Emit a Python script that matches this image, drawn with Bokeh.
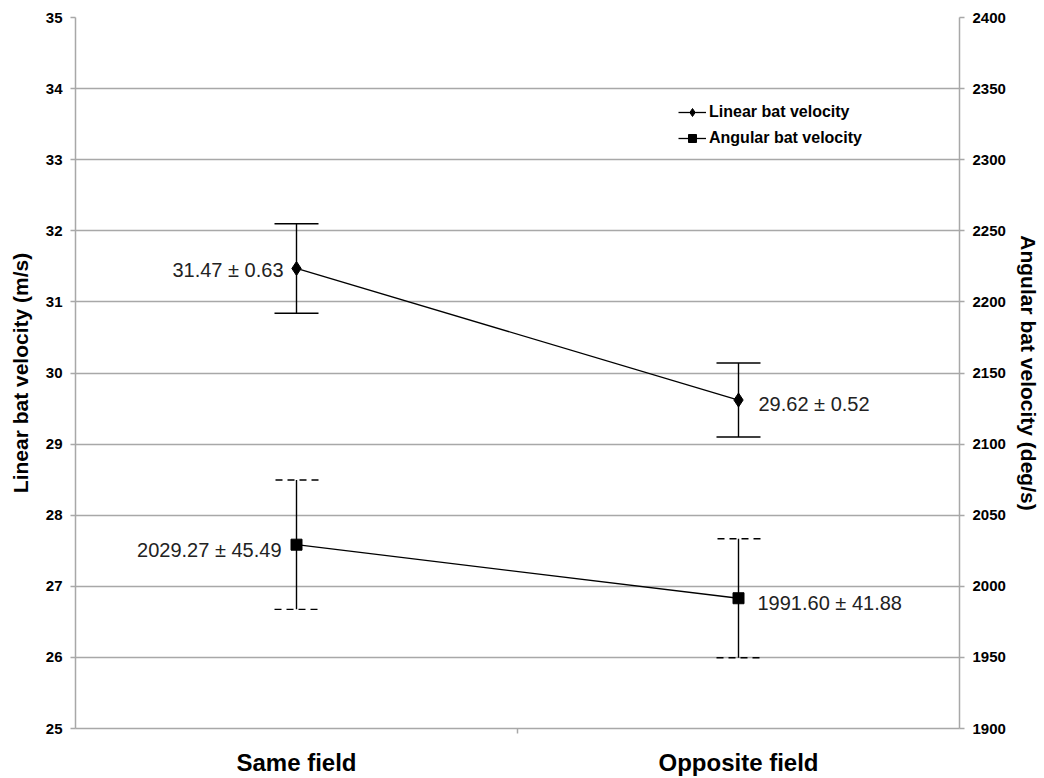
from bokeh.plotting import figure
from bokeh.models import (Range1d, LinearAxis, FixedTicker, ColumnDataSource, Whisker,
                          TeeHead, Legend, LegendItem)
from bokeh.core.properties import value
from bokeh.embed import file_html
from bokeh.resources import INLINE

# ---- data ----
categories = ["Same field", "Opposite field"]
cat_pos = [0.5, 1.5]
linear_mean = [31.47, 29.62]
linear_sd = [0.63, 0.52]
angular_mean = [2029.27, 1991.60]
angular_sd = [45.49, 41.88]
left_ticks = list(range(25, 36))
right_ticks = list(range(1900, 2401, 50))

FONT = "Liberation Sans"
GRID = "#a8a8a8"

p = figure(width=1044, height=778, output_backend="svg", toolbar_location=None,
           x_range=Range1d(0, 2), y_range=Range1d(25, 35),
           min_border_left=75, min_border_right=85, min_border_top=17, min_border_bottom=47)
p.outline_line_color = None
p.background_fill_color = "white"
p.border_fill_color = "white"
p.extra_y_ranges = {"ang": Range1d(1900, 2400)}

# grid
p.xgrid.grid_line_color = None
p.ygrid.grid_line_color = GRID
p.ygrid.grid_line_width = 1.5
p.ygrid.ticker = FixedTicker(ticks=left_ticks)

# x axis
xa = p.xaxis[0]
xa.ticker = FixedTicker(ticks=cat_pos, minor_ticks=[1.0])
xa.major_label_overrides = {cat_pos[i]: categories[i] for i in range(2)}
xa.major_tick_out = 0
xa.major_tick_in = 0
xa.minor_tick_out = 5
xa.minor_tick_in = 0
xa.axis_line_color = GRID
xa.axis_line_width = 1.5
xa.minor_tick_line_color = GRID
xa.minor_tick_line_width = 1.5
xa.major_label_text_font = FONT
xa.major_label_text_font_style = "bold"
xa.major_label_text_font_size = "24px"
xa.major_label_text_color = "black"
xa.major_label_standoff = 15

def style_y(ax, title, title_standoff):
    ax.axis_line_color = GRID
    ax.axis_line_width = 1.5
    ax.major_tick_line_color = GRID
    ax.major_tick_line_width = 1.5
    ax.major_tick_out = 5
    ax.major_tick_in = 0
    ax.minor_tick_line_color = None
    ax.major_label_text_font = FONT
    ax.major_label_text_font_style = "bold"
    ax.major_label_text_font_size = "15px"
    ax.major_label_text_color = "black"
    ax.major_label_standoff = 8
    ax.axis_label = title
    ax.axis_label_text_font = FONT
    ax.axis_label_text_font_style = "bold"
    ax.axis_label_text_font_size = "21px"
    ax.axis_label_text_color = "black"
    ax.axis_label_standoff = title_standoff

ya = p.yaxis[0]
ya.ticker = FixedTicker(ticks=left_ticks)
style_y(ya, "Linear bat velocity (m/s)", 11)

ra = LinearAxis(y_range_name="ang", ticker=FixedTicker(ticks=right_ticks))
style_y(ra, "Angular bat velocity (deg/s)", 8)
p.add_layout(ra, "right")

# ---- sources ----
lin_src = ColumnDataSource(dict(
    x=cat_pos, y=linear_mean,
    lo=[m - s for m, s in zip(linear_mean, linear_sd)],
    hi=[m + s for m, s in zip(linear_mean, linear_sd)],
    label=[f"{m:.2f} \u00b1 {s:.2f}" for m, s in zip(linear_mean, linear_sd)]))
ang_src = ColumnDataSource(dict(
    x=cat_pos, y=angular_mean,
    lo=[m - s for m, s in zip(angular_mean, angular_sd)],
    hi=[m + s for m, s in zip(angular_mean, angular_sd)],
    label=[f"{m:.2f} \u00b1 {s:.2f}" for m, s in zip(angular_mean, angular_sd)]))

# error bars
w1 = Whisker(source=lin_src, base="x", upper="hi", lower="lo", line_color="black", line_width=1.4,
             upper_head=TeeHead(size=44, line_color="black", line_width=1.4),
             lower_head=TeeHead(size=44, line_color="black", line_width=1.4))
p.add_layout(w1)
w2 = Whisker(source=ang_src, base="x", upper="hi", lower="lo", y_range_name="ang",
             line_color="black", line_width=1.4,
             upper_head=TeeHead(size=44, line_color="black", line_width=1.4, line_dash="7 5"),
             lower_head=TeeHead(size=44, line_color="black", line_width=1.4, line_dash="7 5"))
p.add_layout(w2)

# series
l1 = p.line("x", "y", source=lin_src, line_color="black", line_width=1.3)
m1 = p.scatter("x", "y", source=lin_src, marker="diamond", size=14, fill_color="black", line_color="black")
l2 = p.line("x", "y", source=ang_src, y_range_name="ang", line_color="black", line_width=1.3)
m2 = p.scatter("x", "y", source=ang_src, y_range_name="ang", marker="square", size=11,
               fill_color="black", line_color="black")

# data labels
def lab(xv, yv, txt, xo, yo, align, yr="default"):
    p.text(x=[xv], y=[yv], text=[txt], x_offset=xo, y_offset=yo, text_align=align,
           text_baseline="middle", text_font=value(FONT), text_font_size="20px",
           text_color="#222222", y_range_name=yr)

lab(cat_pos[0], linear_mean[0], lin_src.data["label"][0], -13, 2, "right")
lab(cat_pos[1], linear_mean[1], lin_src.data["label"][1], 20, 4, "left")
lab(cat_pos[0], angular_mean[0], ang_src.data["label"][0], -15, 5, "right", "ang")
lab(cat_pos[1], angular_mean[1], ang_src.data["label"][1], 19, 5, "left", "ang")

legend = Legend(items=[LegendItem(label="Linear bat velocity", renderers=[l1, m1]),
                       LegendItem(label="Angular bat velocity", renderers=[l2, m2])],
                location=(603, 580), orientation="vertical")
legend.border_line_color = None
legend.background_fill_alpha = 0
legend.padding = 0
legend.margin = 0
legend.spacing = 6
legend.glyph_width = 28
legend.glyph_height = 20
legend.label_standoff = 3
legend.label_text_font = FONT
legend.label_text_font_style = "bold"
legend.label_text_font_size = "16px"
legend.label_text_color = "black"
p.add_layout(legend)

open("out.html", "w").write(file_html(p, INLINE))
